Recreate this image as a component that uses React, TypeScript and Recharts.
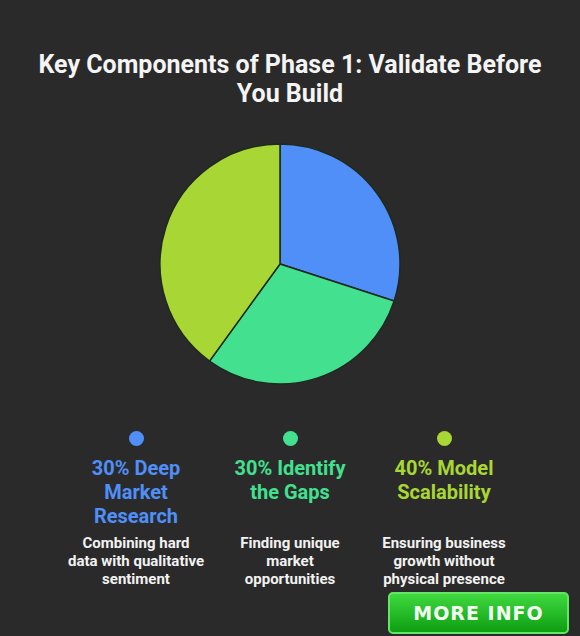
import { Cell, Pie, PieChart } from "recharts"

const names = ["Deep Market Research", "Identify the Gaps", "Model Scalability"]
const shares = [30, 30, 40]
const notes = [
  "Combining hard\ndata with qualitative\nsentiment",
  "Finding unique\nmarket\nopportunities",
  "Ensuring business\ngrowth without\nphysical presence",
]
const colors = ["#4f8ff7", "#42e08f", "#a8d634"]

const data = names.map((name, i) => ({ name, value: shares[i], note: notes[i] }))

function LegendBlock() {
  return (
    <div style={{ position: "absolute", top: 431, left: 59, width: 462, display: "flex" }}>
      {data.map((d, i) => (
        <div key={d.name} style={{ width: 154, display: "flex", flexDirection: "column", alignItems: "center", textAlign: "center" }}>
          <div style={{ width: 15, height: 15, borderRadius: "50%", background: colors[i] }} />
          <div style={{ width: 130, minHeight: 72, marginTop: 10, color: colors[i], fontSize: 20, fontWeight: 700, lineHeight: "24px" }}>
            {d.value}% {d.name}
          </div>
          <div style={{ width: 154, marginTop: 6, color: "#f2f2f2", fontSize: 15, fontWeight: 700, lineHeight: "18px", whiteSpace: "pre-line" }}>
            {d.note}
          </div>
        </div>
      ))}
    </div>
  )
}

export default function App() {
  return (
    <div
      style={{
        position: "absolute",
        left: 0,
        top: 0,
        width: 580,
        height: 636,
        background: "#2a2a2a",
        fontFamily: "Roboto, sans-serif",
        overflow: "hidden",
      }}
    >
      <div
        style={{
          position: "absolute",
          top: 50,
          left: 0,
          width: 580,
          textAlign: "center",
          color: "#f4f4f4",
          fontSize: 25,
          fontWeight: 700,
          lineHeight: "29px",
        }}
      >
        Key Components of Phase 1: Validate Before
        <br />
        You Build
      </div>
      <div style={{ position: "absolute", left: 0, top: 0 }}>
        <PieChart width={580} height={420} margin={{ top: 0, right: 0, bottom: 0, left: 0 }}>
          <Pie
            data={data}
            dataKey="value"
            cx={280}
            cy={264}
            outerRadius={120}
            startAngle={90}
            endAngle={-270}
            stroke="#1e2a1e"
            strokeWidth={1.5}
            isAnimationActive={false}
          >
            {data.map((d, i) => (
              <Cell key={d.name} fill={colors[i]} />
            ))}
          </Pie>
        </PieChart>
      </div>
      <LegendBlock />
      <div
        style={{
          position: "absolute",
          left: 388,
          top: 592,
          width: 181,
          height: 42,
          boxSizing: "border-box",
          borderRadius: 5,
          border: "2px solid #63e663",
          background: "linear-gradient(#3fd93f, #0e9e12)",
          color: "#f4fff4",
          fontFamily: "'DejaVu Sans', sans-serif",
          fontWeight: 700,
          fontSize: 19,
          letterSpacing: 1,
          display: "flex",
          alignItems: "center",
          justifyContent: "center",
        }}
      >
        MORE INFO
      </div>
    </div>
  )
}
